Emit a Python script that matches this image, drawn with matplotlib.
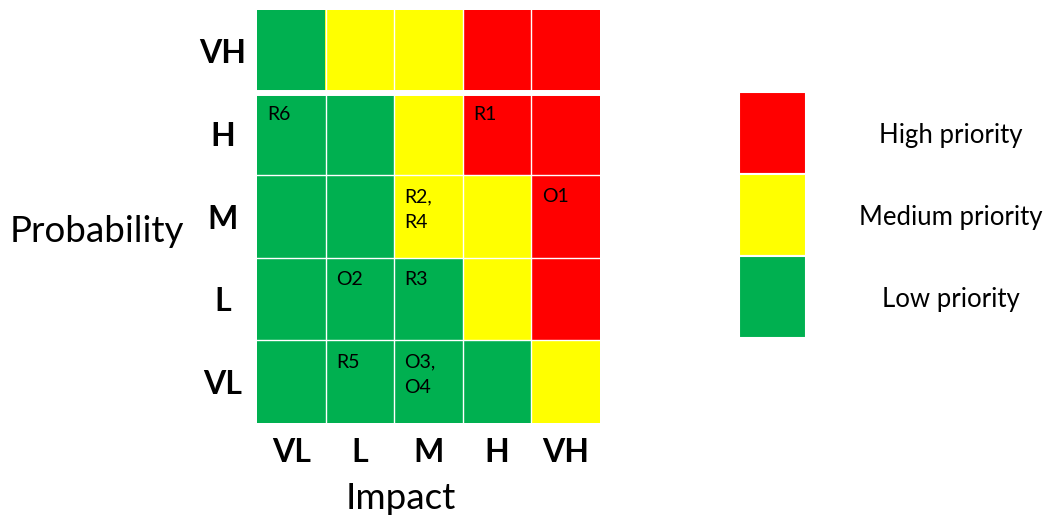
import numpy as np
import matplotlib
matplotlib.use("Agg")
import matplotlib.pyplot as plt
from matplotlib.colors import ListedColormap
from matplotlib.patches import Rectangle

plt.rcParams['font.family'] = ['Lato', 'DejaVu Sans']

levels = ["VH", "H", "M", "L", "VL"]          # probability, top to bottom
impacts = ["VL", "L", "M", "H", "VH"]         # impact, left to right

# 0 = low, 1 = medium, 2 = high priority
priority = [
    [0, 1, 1, 2, 2],   # VH
    [0, 0, 1, 2, 2],   # H
    [0, 0, 1, 1, 2],   # M
    [0, 0, 0, 1, 2],   # L
    [0, 0, 0, 0, 1],   # VL
]

# risk / opportunity ids placed in cells (probability, impact)
items = {
    ("H", "VL"): "R6",
    ("H", "H"): "R1",
    ("M", "M"): "R2,\nR4",
    ("M", "VH"): "O1",
    ("L", "L"): "O2",
    ("L", "M"): "R3",
    ("VL", "L"): "R5",
    ("VL", "M"): "O3,\nO4",
}

legend_names = ["High priority", "Medium priority", "Low priority"]
colors = ["#00B050", "#FFFF00", "#FF0000"]

W, H = 1051, 518
fig = plt.figure(figsize=(W / 100, H / 100), dpi=100)

# main risk grid
ax = fig.add_axes([257 / W, (H - 423) / H, 343 / W, 413 / H])
ax.imshow(np.array(priority), cmap=ListedColormap(colors), vmin=0, vmax=2,
          aspect='auto', interpolation='nearest')
for k in range(1, len(impacts)):
    ax.axvline(k - 0.5, color='white', lw=1)
for k in range(1, len(levels)):
    ax.axhline(k - 0.5, color='white', lw=4.3 if k == 1 else 1)

for (p, i), txt in items.items():
    r, c = levels.index(p), impacts.index(i)
    ax.annotate(txt, xy=(c - 0.5, r - 0.5), xytext=(7.5, -9.5),
                textcoords='offset points', ha='left', va='top',
                fontsize=14, linespacing=1.6, color='black')

for s in ax.spines.values():
    s.set_visible(False)
ax.set_xticks(range(len(impacts)))
ax.set_xticklabels(impacts, fontsize=23, fontweight='bold')
ax.set_yticks(range(len(levels)))
ax.set_yticklabels(levels, fontsize=23, fontweight='bold')
ax.tick_params(axis='x', length=0, pad=11)
ax.tick_params(axis='y', length=0, pad=25)
for lab in ax.get_yticklabels():
    lab.set_horizontalalignment('center')

fig.text(10 / W, 1 - 232 / H, "Probability", fontsize=26.5, ha='left', va='center')
fig.text(401 / W, 3 / H, "Impact", fontsize=26.5, ha='center', va='bottom')

# legend boxes
lax = fig.add_axes([739 / W, (H - 338) / H, (W - 739) / W, 246 / H])
lax.set_xlim(0, W - 739)
lax.set_ylim(3, 0)
lax.axis('off')
for j, name in enumerate(legend_names):
    lax.add_patch(Rectangle((0, j), 67, 1, facecolor=colors[2 - j],
                            edgecolor='white', lw=1.5))
    lax.text(212, j + 0.62, name, fontsize=18.5, ha='center', va='baseline')

fig.savefig("out.png", dpi=100)
